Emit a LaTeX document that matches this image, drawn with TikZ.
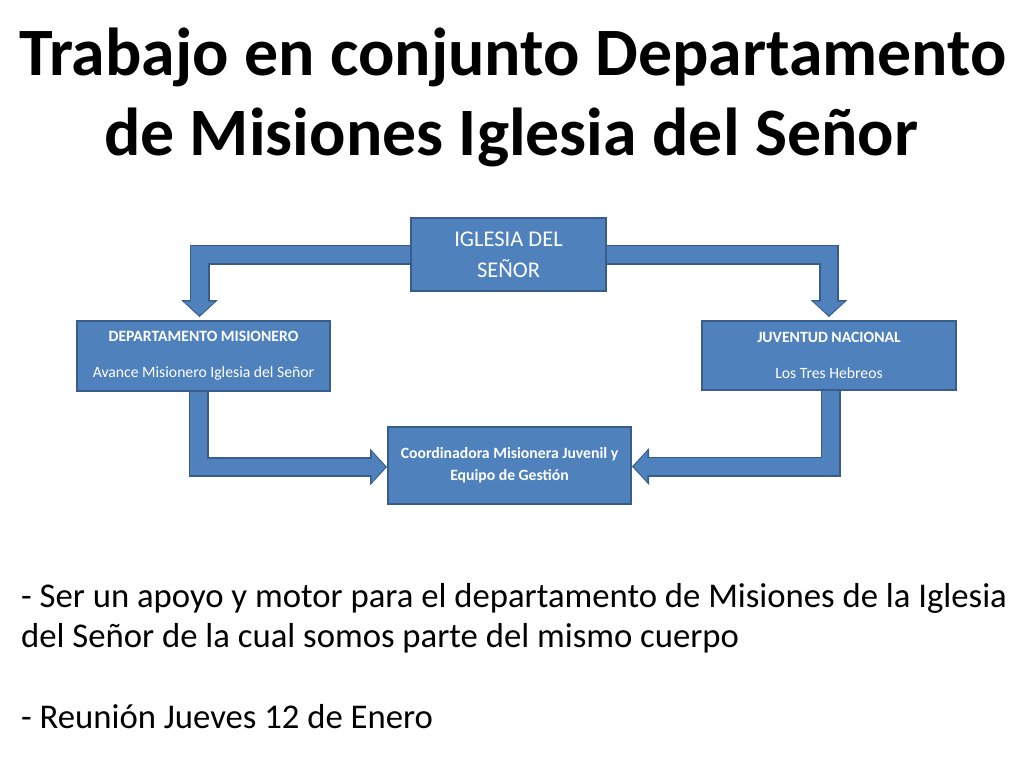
\documentclass[tikz,border=0pt]{standalone}
\usepackage{fontspec}
\setmainfont{Carlito}
\usetikzlibrary{arrows.meta,backgrounds}
\definecolor{boxblue}{HTML}{4F81BD}
\definecolor{boxedge}{HTML}{385D8A}
\tikzset{
    box/.style = {rectangle, draw=boxedge, fill=boxblue, line width=2pt, text=white,
                  align=center, inner sep=0pt},
    small/.style = {font=\fontsize{15.7}{36}\selectfont},
    flowedge/.style = {line width=20pt, draw=boxedge,
                       -{Triangle[width=37pt,length=17pt,line width=0pt]}},
    flowfill/.style = {line width=16.5pt, draw=boxblue, shorten >=1.8pt,
                       -{Triangle[width=31pt,length=13.5pt,line width=0pt]}},
    headline/.style = {anchor=base, inner sep=0pt, font=\bfseries\fontsize{67.8}{80}\selectfont},
    bodyline/.style = {anchor=base west, inner sep=0pt, font=\fontsize{34.7}{41}\selectfont}
}
\begin{document}
\begin{tikzpicture}[x=1pt,y=-1pt]
    \useasboundingbox (0,0) rectangle (1024,768);

    \node[headline] (t1) at (513,75) {Trabajo en conjunto Departamento};
    \node[headline] (t2) at (511,155) {de Misiones Iglesia del Señor};

    \node[box, minimum width=195pt, minimum height=73pt,
          font=\fontsize{22.5}{31}\selectfont] (church) at (508.5,254.5) {IGLESIA DEL\\SEÑOR};
    \node[box, small, minimum width=253pt, minimum height=70pt] (dept) at (203.5,356)
        {\textbf{DEPARTAMENTO MISIONERO}\\Avance Misionero Iglesia del Señor};
    \node[box, small, minimum width=254pt, minimum height=69pt] (youth) at (829,355.5)
        {\textbf{JUVENTUD NACIONAL}\\Los Tres Hebreos};
    \node[box, minimum width=243pt, minimum height=77pt,
          font=\bfseries\fontsize{15.7}{22}\selectfont] (coord) at (509.5,465.5)
        {Coordinadora Misionera Juvenil y\\Equipo de Gestión};

    % bent block arrows behind the boxes
    \begin{scope}[on background layer]
    \foreach \st in {flowedge,flowfill}{
        \draw[\st] (church.west) -| ([xshift=-4pt,yshift=3pt]dept.north);
        \draw[\st] (church.east) -| ([yshift=3pt]youth.north);
        \draw[\st] ([xshift=-5pt]dept.south) |- ([yshift=-1.5pt]coord.west);
        \draw[\st] ([xshift=1.5pt]youth.south) |- ([yshift=-1pt]coord.east);
    }
    \end{scope}

    \node[bodyline] (p1) at (21,607) {- Ser un apoyo y motor para el departamento de Misiones de la Iglesia};
    \node[bodyline] (p2) at (21,647) {del Señor de la cual somos parte del mismo cuerpo};
    \node[bodyline] (p3) at (21,728) {- Reunión Jueves 12 de Enero};
\end{tikzpicture}
\end{document}
